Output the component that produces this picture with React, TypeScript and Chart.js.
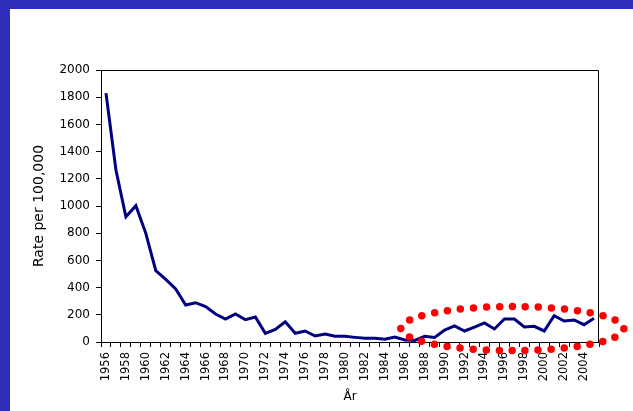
import React, { useEffect, useRef } from 'react';
import { Chart, registerables } from 'chart.js';

Chart.register(...registerables);

const years: string[] = [
  '1956', '1957', '1958', '1959', '1960', '1961', '1962', '1963', '1964', '1965',
  '1966', '1967', '1968', '1969', '1970', '1971', '1972', '1973', '1974', '1975',
  '1976', '1977', '1978', '1979', '1980', '1981', '1982', '1983', '1984', '1985',
  '1986', '1987', '1988', '1989', '1990', '1991', '1992', '1993', '1994', '1995',
  '1996', '1997', '1998', '1999', '2000', '2001', '2002', '2003', '2004', '2005',
];

const rates: number[] = [
  1830, 1265, 921, 1002, 799, 524, 461, 390, 272, 289,
  260, 206, 169, 206, 164, 184, 64, 93, 149, 64,
  81, 44, 59, 42, 42, 34, 27, 27, 20, 37,
  15, 12, 42, 34, 88, 118, 81, 110, 140, 96,
  169, 169, 110, 115, 81, 194, 154, 162, 127, 174,
];

const yMin = 0;
const yMax = 2000;
const yStep = 200;

// Highlight annotation (dotted ellipse) in data units
const highlightCenterYear = 1996.8;
const highlightCenterValue = 99;
const highlightHalfYears = 11.2;
const highlightHalfValue = 162;

const framePlugin = {
  id: 'frameAndHighlight',
  afterDraw(chart: any) {
    const { ctx, chartArea: a, scales } = chart;
    ctx.save();
    ctx.strokeStyle = '#000000';
    ctx.lineWidth = 1;
    ctx.beginPath();
    const top = Math.round(a.top) + 0.5;
    const right = Math.round(a.right) - 0.5;
    ctx.moveTo(a.left, top);
    ctx.lineTo(right, top);
    ctx.lineTo(right, a.bottom);
    ctx.stroke();

    const xs = scales.x;
    const ys = scales.y;
    const first = Number(years[0]);
    const cx = xs.getPixelForValue(highlightCenterYear - first);
    const cy = ys.getPixelForValue(highlightCenterValue);
    const rx = Math.abs(xs.getPixelForValue(highlightCenterYear + highlightHalfYears - first) - cx);
    const ry = Math.abs(ys.getPixelForValue(highlightCenterValue - highlightHalfValue) - cy);
    ctx.strokeStyle = '#ff0000';
    ctx.lineWidth = 7.5;
    ctx.lineCap = 'round';
    ctx.setLineDash([0, 13]);
    ctx.beginPath();
    ctx.ellipse(cx, cy, rx, ry, 0, Math.PI, Math.PI * 3);
    ctx.stroke();
    ctx.restore();
  },
};

export default function App() {
  const ref = useRef<HTMLCanvasElement | null>(null);

  useEffect(() => {
    document.body.style.margin = '0';
    const canvas = ref.current;
    if (!canvas) return;
    const font = { family: '"DejaVu Sans", Verdana, sans-serif', size: 12 };
    const chart = new Chart(canvas, {
      type: 'line',
      data: {
        labels: years,
        datasets: [
          {
            data: rates,
            borderColor: '#000080',
            backgroundColor: '#000080',
            borderWidth: 3,
            pointRadius: 0,
            tension: 0,
            fill: false,
          },
        ],
      },
      options: {
        responsive: false,
        animation: false,
        devicePixelRatio: 1,
        layout: { padding: { top: 70, right: 34, left: 10, bottom: 0 } },
        plugins: { legend: { display: false }, tooltip: { enabled: false } },
        scales: {
          x: {
            type: 'category',
            offset: true,
            afterFit: (s: any) => { s.height = 69; },
            grid: {
              offset: true,
              drawOnChartArea: false,
              drawTicks: true,
              tickLength: 5,
              color: '#000000',
            },
            border: { display: true, color: '#000000', width: 1 },
            ticks: {
              autoSkip: false,
              maxRotation: 90,
              minRotation: 90,
              padding: 5,
              color: '#000000',
              font: { family: font.family, size: 11.5 },
              callback: (_v: any, i: number) => (i % 2 === 0 ? years[i] : ''),
            },
            title: {
              display: true,
              text: 'År',
              color: '#000000',
              font,
              padding: { top: 0, bottom: 7 },
            },
          },
          y: {
            min: yMin,
            max: yMax,
            afterFit: (s: any) => { s.width = 91; },
            grid: {
              drawOnChartArea: false,
              drawTicks: true,
              tickLength: 5,
              color: '#000000',
            },
            border: { display: true, color: '#000000', width: 1 },
            ticks: {
              stepSize: yStep,
              padding: 6,
              color: '#000000',
              font,
              callback: (v: any) => String(v),
            },
            title: {
              display: true,
              text: 'Rate per 100,000',
              color: '#000000',
              font: { family: font.family, size: 14 },
              padding: { top: 21, bottom: 0 },
            },
          },
        },
      },
      plugins: [framePlugin],
    });
    return () => chart.destroy();
  }, []);

  return (
    <div style={{ position: 'fixed', left: 0, top: 0, width: 633, height: 411, background: '#ffffff', overflow: 'hidden' }}>
      <canvas ref={ref} width={633} height={411} style={{ position: 'absolute', left: 0, top: 0, width: 633, height: 411 }} />
      <div style={{ position: 'absolute', left: 0, top: 0, width: 633, height: 9, background: '#2e2eb9' }} />
      <div style={{ position: 'absolute', left: 0, top: 0, width: 10, height: 411, background: '#2e2eb9' }} />
    </div>
  );
}
